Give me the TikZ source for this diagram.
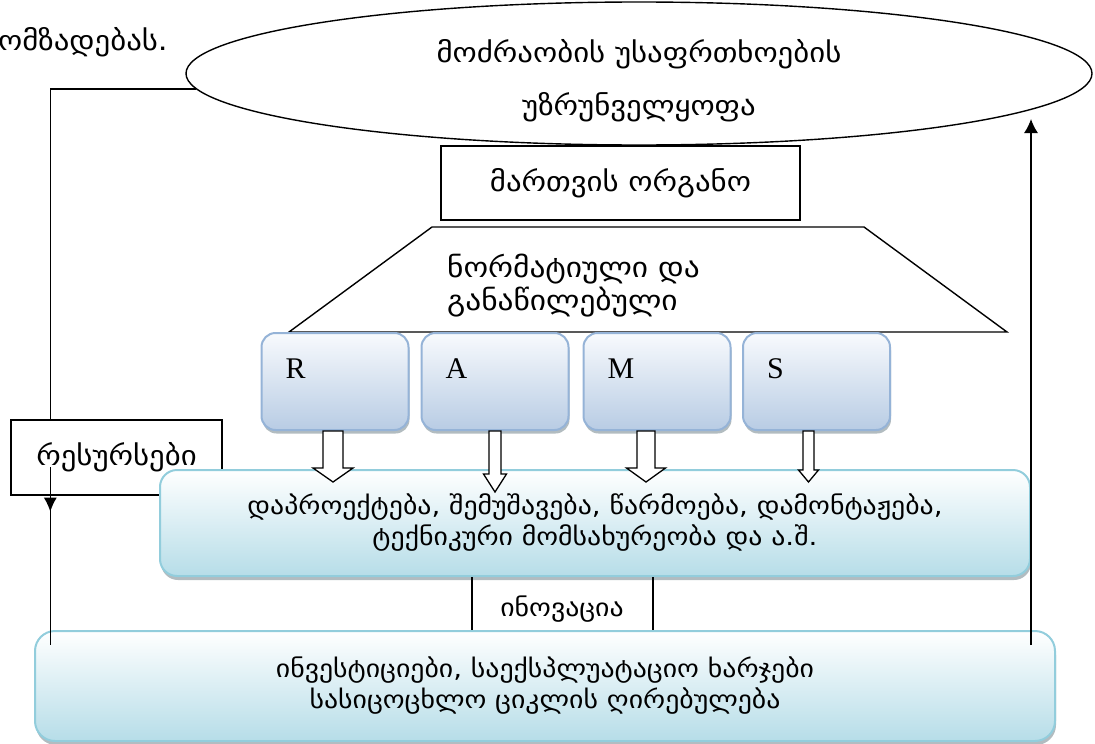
\documentclass[tikz,border=0pt]{standalone}
\usepackage{fontspec}
\setmainfont[FakeStretch=1.12]{DejaVu Sans}
\newfontfamily\latinserif{Liberation Serif}
\usetikzlibrary{shapes.geometric,shadows,arrows.meta,decorations.markings,calc}

\definecolor{ramsborder}{HTML}{95B3D7}
\definecolor{ramsbottom}{HTML}{B8CCE4}
\definecolor{ramstop}{HTML}{F8FAFD}
\definecolor{procborder}{HTML}{92CDDC}
\definecolor{procbottom}{HTML}{B6DDE8}
\definecolor{shadowgray}{HTML}{7F8F96}

% hollow block arrow: #1 top point, #2 length, #3 half shaft, #4 half head, #5 head length
\newcommand{\hollowarrow}[5]{%
  \draw[blockarrow] (#1) ++({-#3},0) -- ++(0,{#2-#5}) -- ++({#3-#4},0)
    -- ++({#4},{#5}) -- ++({#4},{-#5}) -- ++({#3-#4},0) -- ++(0,{#5-#2}) -- cycle;}

\begin{document}
\begin{tikzpicture}[x=1pt,y=-1pt,
  line/.style={line width=1.4pt,black},
  bigtext/.style={font=\fontsize{27.5}{53}\selectfont},
  midtext/.style={font=\fontsize{28}{33}\selectfont},
  smalltext/.style={font=\fontsize{24.8}{31}\selectfont},
  plainbox/.style={draw,line width=1.4pt,inner sep=0pt},
  ramsbox/.style={draw=ramsborder,line width=2pt,rounded corners=14pt,
    top color=ramstop,bottom color=ramsbottom,
    drop shadow={shadow xshift=1pt,shadow yshift=-3.5pt,fill=shadowgray,opacity=0.6},
    minimum width=147pt,minimum height=97pt,text width=99pt,align=left,
    inner xsep=24pt,inner ysep=0pt,text height=20pt,text depth=27pt,
    font=\latinserif\fontsize{30}{30}\selectfont},
  procbox/.style={draw=procborder,line width=2pt,rounded corners=17pt,
    top color=white,bottom color=procbottom,
    drop shadow={shadow xshift=1pt,shadow yshift=-4pt,fill=shadowgray,opacity=0.6},
    align=center,inner sep=0pt,smalltext},
  blockarrow/.style={draw=black,line width=1.3pt,fill=white,line join=miter},
  arrowtip/.style={-{Latex[length=14pt,width=14pt]}}
]
\useasboundingbox (0,0) rectangle (1095,744);

% text running in from the left margin
\node[bigtext,anchor=east,inner sep=0pt] (lead) at (168,42) {ომზადებას.};

% goal ellipse and its caption
\node[ellipse,draw,line width=1.4pt,minimum width=906pt,minimum height=143pt,
  inner sep=0pt] (goal) at (639,73.5) {};
\node[bigtext,align=center,inner sep=0pt] (goaltext) at ([yshift=-7pt]goal.center)
  {მოძრაობის უსაფრთხოების\\უზრუნველყოფა};

% management body
\node[plainbox,minimum width=359pt,minimum height=74pt,bigtext] (organ) at (620.5,183)
  {მართვის ორგანო};

% normative trapezium
\draw[line] (432,227) -- (864,227) -- (1007,332) -- (289,332) -- cycle;
\node[midtext,align=left,anchor=west,inner sep=0pt] (norm) at (447,286)
  {ნორმატიული და\\განაწილებული};

% resources box
\node[plainbox,minimum width=211pt,minimum height=75pt,bigtext] (res) at (116.5,457.5)
  {რესურსები};

% R A M S blocks
\node[ramsbox] (R) at (335,381.5) {R};
\node[ramsbox] (A) at (495,381.5) {A};
\node[ramsbox] (M) at (657,381.5) {M};
\node[ramsbox] (S) at (816.5,381.5) {S};

% life-cycle stages
\node[procbox,minimum width=870pt,minimum height=106pt] (stages) at (595,523)
  {დაპროექტება, შემუშავება, წარმოება, დამონტაჟება,\\ტექნიკური მომსახურეობა და ა.შ.};

% costs
\node[procbox,rounded corners=20pt,minimum width=1020pt,minimum height=110pt] (cost) at (545,686)
  {ინვესტიციები, საექსპლუატაციო ხარჯები\\სასიცოცხლო ციკლის ღირებულება};

% innovation link
\coordinate (i1) at ([xshift=313pt]stages.south west);
\coordinate (i2) at ([xshift=494pt]stages.south west);
\draw[line] (i1) -- (i1 |- cost.north);
\draw[line] (i2) -- (i2 |- cost.north);
\node[smalltext,inner sep=0pt] (innov) at (562,609) {ინოვაცია};

% block arrows from R A M S down to the stages
\hollowarrow{$(R.south)+(-2,0)$}{51}{10}{20}{14}
\hollowarrow{$(A.south)+(0,0)$}{61}{6}{11.5}{18}
\hollowarrow{$(M.south)+(-11,0)$}{51}{9}{19.5}{14}
\hollowarrow{$(S.south)+(-8,0)$}{51}{5.5}{10}{12}

% feedback from the goal to resources and on to costs
\coordinate (resin) at ([xshift=40pt]res.north west);
\draw[line] (goal.182.85) -| (resin);
\coordinate (resout) at ([xshift=40pt,yshift=-48pt]res.north west);
\coordinate (costin) at ([yshift=-15pt]cost.north -| resout);
\draw[line,decoration={markings,mark=at position 0.25 with {\arrow{Latex[length=14pt,width=13pt]}}},
  postaction={decorate}] (resout) -- (costin);

% costs feed back up to the goal
\coordinate (costout) at ([xshift=-25pt,yshift=-15pt]cost.north east);
\coordinate (goalin) at (costout |- 0,119);
\draw[line,arrowtip] (costout) -- (goalin);
\end{tikzpicture}
\end{document}
